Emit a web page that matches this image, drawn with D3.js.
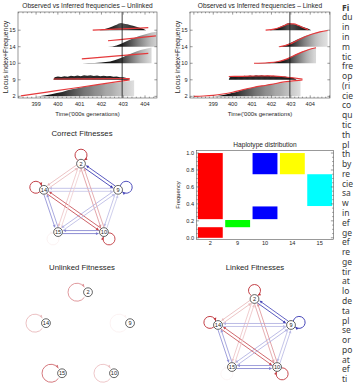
<!DOCTYPE html>
<html>
<head>
<meta charset="utf-8">
<title>Observed vs inferred frequencies</title>
<script src="https://cdn.jsdelivr.net/npm/d3@7/dist/d3.min.js"></script>
<style>
  html, body { margin: 0; padding: 0; background: #fff; }
  svg { display: block; }
  text { font-family: "Liberation Sans", Arial, sans-serif; fill: #262626; }
  text.side { font-family: "Noto Sans", "Open Sans", sans-serif; fill: #3a3a3a; }
</style>
</head>
<body>
<svg id="fig" width="354" height="384"></svg>
<script>
const loci = ["2", "9", "10", "14", "15"];
const timeTicks = [399, 400, 401, 402, 403, 404];
const cutoffTime = 402.95;

// observed frequencies, [time ('000 gen), frequency]
const obs2 = [[398.95, 0], [399.2, 0.02], [399.45, 0.06], [399.7, 0.12], [399.95, 0.2], [400.2, 0.27], [400.45, 0.37], [400.7, 0.44], [400.95, 0.51], [401.2, 0.58], [401.45, 0.62], [401.7, 0.68], [401.95, 0.71], [402.2, 0.77], [402.45, 0.79], [402.7, 0.84], [402.95, 0.88], [403.2, 0.92], [403.5, 0.97]];
const obs9 = [[399.8, 0], [399.85, 0.16], [400.0, 0.2], [400.15, 0.17], [400.3, 0.22], [400.45, 0.19], [400.6, 0.24], [400.75, 0.21], [400.9, 0.26], [401.05, 0.22], [401.2, 0.27], [401.35, 0.24], [401.5, 0.28], [401.65, 0.23], [401.8, 0.26], [401.95, 0.22], [402.1, 0.25], [402.25, 0.21], [402.4, 0.23], [402.55, 0.19], [402.7, 0.2], [402.85, 0.16], [403.0, 0.15], [403.15, 0.11], [403.3, 0]];
const obs10 = [[401.1, 0], [401.4, 0.01], [401.7, 0.02], [402.0, 0.04], [402.2, 0.07], [402.4, 0.11], [402.6, 0.18], [402.8, 0.27], [403.0, 0.38], [403.2, 0.5], [403.4, 0.61], [403.6, 0.71], [403.8, 0.8], [404.0, 0.87], [404.2, 0.93], [404.3, 0.95]];
const obs14 = [[402.3, 0], [402.5, 0.02], [402.7, 0.08], [402.9, 0.18], [403.1, 0.3], [403.3, 0.42], [403.5, 0.53], [403.7, 0.63], [403.9, 0.71], [404.1, 0.79], [404.3, 0.86], [404.5, 0.91], [404.7, 0.95], [404.9, 0.98]];
const obs15 = [[401.9, 0], [402.05, 0.04], [402.2, 0.09], [402.35, 0.15], [402.5, 0.22], [402.6, 0.28], [402.7, 0.33], [402.8, 0.4], [402.9, 0.44], [403.0, 0.41], [403.1, 0.38], [403.2, 0.36], [403.3, 0.31], [403.45, 0.27], [403.6, 0.21], [403.75, 0.15], [403.9, 0.08], [404.05, 0]];
const observed = [obs2, obs9, obs10, obs14, obs15];

// inferred trajectories, unlinked model
const unl2 = [[398.3, 0.03], [399.5, 0.26], [400.7, 0.49], [401.9, 0.72], [403.3, 1.0]];
const unl9 = [[399.8, 0.05], [401.5, 0.06], [403.3, 0.08]];
const unl10 = [[401.1, 0.27], [402.6, 0.43], [404.15, 0.6]];
const unl14 = [[402.3, 0.36], [403.4, 0.51], [404.5, 0.66]];
const unl15 = [[401.6, 0.0], [402.9, 0.08], [404.15, 0.15]];
const unlinkedFit = [unl2, unl9, unl10, unl14, unl15];

// inferred trajectories, linked model
const lnk2 = [[398.0, 0], [398.5, 0.02], [399.0, 0.06], [399.5, 0.14], [400.0, 0.25], [400.5, 0.39], [401.0, 0.52], [401.5, 0.63], [402.0, 0.72], [402.5, 0.84], [403.0, 0.92], [403.6, 1.0]];
const lnk9 = [[399.8, 0.2], [400.5, 0.21], [401.2, 0.23], [401.9, 0.24], [402.5, 0.2], [403.0, 0.13], [403.6, 0.05]];
const lnk10 = [[401.1, 0], [401.8, 0.03], [402.3, 0.09], [402.7, 0.22], [403.0, 0.37], [403.3, 0.54], [403.6, 0.69], [403.9, 0.82], [404.3, 0.94]];
const lnk14 = [[402.4, 0], [402.7, 0.07], [403.0, 0.19], [403.3, 0.36], [403.6, 0.53], [403.9, 0.68], [404.2, 0.8], [404.5, 0.9], [404.9, 0.98]];
const lnk15 = [[401.7, 0], [402.2, 0.08], [402.6, 0.25], [402.9, 0.38], [403.15, 0.38], [403.4, 0.28], [403.7, 0.12], [403.9, 0.03]];
const linkedFit = [lnk2, lnk9, lnk10, lnk14, lnk15];

// fitness interactions, row = source locus, column = target locus (order of loci)
const correctW = [
  [0.85, -0.9, 0.45, 0.3, 0.25],
  [-0.85, -0.8, -0.3, -0.3, -0.35],
  [0.4, -0.25, 0.8, 0.75, -0.55],
  [0.3, -0.25, 0.8, 0.85, -0.5],
  [0.2, -0.3, -0.6, -0.45, 0.06]
];
const linkedW = [
  [0.85, -0.85, 0.4, 0.3, 0.25],
  [-0.8, -0.85, -0.3, -0.35, -0.35],
  [0.45, -0.3, 0.8, 0.75, -0.5],
  [0.3, -0.3, 0.75, 0.85, -0.5],
  [0.25, -0.35, -0.55, -0.45, 0.04]
];
const unlinkedSelf = [0.45, 0.06, 0.25, 0.28, 0.6];

// haplotype blocks
const hapLocus = ["2", "2", "9", "10", "10", "14", "15"];
const hapStart = [0.22, 0, 0.125, 0.75, 0.22, 0.75, 0.375];
const hapEnd = [1, 0.125, 0.21, 1, 0.37, 1, 0.75];
const hapTicks = [0, 0.2, 0.4, 0.6, 0.8, 1];

const sideText = ["Fi", "du", "in", "in", "m", "tic", "fre", "op", "(ri", "cie", "co", "qu", "tic", "th", "pl", "th", "by", "re", "cie", "sa", "w", "in", "ef", "ge", "ef", "re", "ge", "tir", "at", "lo", "de", "ta", "pl", "se", "or", "po", "at", "ef", "ti"];

const svg = d3.select("#fig");
svg.append("rect").attr("width", 354).attr("height", 384).attr("fill", "#fff");

class FreqPanel {
  constructor(option) {
    let o = {
      svg: null,
      id: "p",
      x0: 18,
      x1: 157,
      y0: 12,
      y1: 98,
      domain: [398.17, 404.55],
      title: "",
      fits: []
    };
    Object.assign(o, option);
    Object.assign(this, o);
    this.init();
  }

  init() {
    this.group = this.svg.append("g");
    this.defs = this.group.append("defs");
    this.xScale = d3.scaleLinear().domain(this.domain).range([this.x0, this.x1]);
    this.yScale = d3.scaleLinear().domain([-0.1, 5.1]).range([this.y1, this.y0]);
    this.defs.append("clipPath").attr("id", this.id + "-clip")
      .append("rect")
      .attr("x", this.x0).attr("y", this.y0)
      .attr("width", this.x1 - this.x0).attr("height", this.y1 - this.y0);
    this.plot = this.group.append("g").attr("clip-path", `url(#${this.id}-clip)`);
    this.addObserved();
    this.addInferred();
    this.addFrame();
    this.addLabels();
  }

  addObserved() {
    // grey level follows the frequency: rare = dark, common = light
    const shade = f => d3.interpolateRgb("#050505", "#e8e8e8")(Math.pow(Math.max(0, f), 1.3));
    observed.forEach((s, i) => {
      const t0 = s[0][0], t1 = s[s.length - 1][0];
      const grad = this.defs.append("linearGradient")
        .attr("id", `${this.id}-g${i}`)
        .attr("gradientUnits", "userSpaceOnUse")
        .attr("x1", this.xScale(t0)).attr("x2", this.xScale(t1))
        .attr("y1", 0).attr("y2", 0);
      grad.selectAll("stop").data(s).enter().append("stop")
        .attr("offset", d => (d[0] - t0) / (t1 - t0))
        .attr("stop-color", d => shade(d[1]));
      const area = d3.area()
        .x(d => this.xScale(d[0]))
        .y0(this.yScale(i))
        .y1(d => this.yScale(i + d[1]));
      this.plot.append("path").datum(s)
        .attr("d", area)
        .attr("fill", `url(#${this.id}-g${i})`);
    });
  }

  addInferred() {
    this.fits.forEach((s, i) => {
      const line = d3.line()
        .curve(d3.curveMonotoneX)
        .x(d => this.xScale(d[0]))
        .y(d => this.yScale(i + d[1]));
      this.plot.append("path").datum(s)
        .attr("d", line)
        .attr("fill", "none")
        .attr("stroke", "#e5393b")
        .attr("stroke-width", 1.2);
    });
    this.plot.append("line")
      .attr("x1", this.xScale(cutoffTime)).attr("x2", this.xScale(cutoffTime))
      .attr("y1", this.y0).attr("y2", this.y1)
      .attr("stroke", "#111").attr("stroke-width", 0.8);
  }

  addFrame() {
    const g = this.group.append("g")
      .attr("fill", "none").attr("stroke", "#555").attr("stroke-width", 0.6);
    g.append("rect")
      .attr("x", this.x0).attr("y", this.y0)
      .attr("width", this.x1 - this.x0).attr("height", this.y1 - this.y0);
    const minor = d3.range(Math.ceil(this.domain[0] * 5), Math.floor(this.domain[1] * 5) + 1).map(v => v / 5);
    minor.forEach(t => {
      const major = Math.abs(t - Math.round(t)) < 1e-6;
      const len = major ? 2.6 : 1.3;
      const x = this.xScale(t);
      g.append("line").attr("x1", x).attr("x2", x).attr("y1", this.y1).attr("y2", this.y1 - len);
      g.append("line").attr("x1", x).attr("x2", x).attr("y1", this.y0).attr("y2", this.y0 + len);
    });
    loci.forEach((l, i) => {
      const y = this.yScale(i);
      g.append("line").attr("x1", this.x0).attr("x2", this.x0 + 2.6).attr("y1", y).attr("y2", y);
      g.append("line").attr("x1", this.x1).attr("x2", this.x1 - 2.6).attr("y1", y).attr("y2", y);
    });
  }

  addLabels() {
    const cx = (this.x0 + this.x1) / 2;
    this.group.append("text")
      .attr("x", cx).attr("y", 8.4)
      .attr("text-anchor", "middle").attr("font-size", 6.6)
      .text(this.title);
    this.group.selectAll(".xt").data(timeTicks).enter().append("text")
      .attr("x", d => this.xScale(d)).attr("y", 105.6)
      .attr("text-anchor", "middle").attr("font-size", 5.6)
      .text(d => d);
    this.group.selectAll(".yt").data(loci).enter().append("text")
      .attr("x", this.x0 - 2.5).attr("y", (d, i) => this.yScale(i) + 2)
      .attr("text-anchor", "end").attr("font-size", 5.6)
      .text(d => d);
    this.group.append("text")
      .attr("x", cx).attr("y", 115.6)
      .attr("text-anchor", "middle").attr("font-size", 6)
      .text("Time('000s generations)");
    const ly = (this.y0 + this.y1) / 2 + 2;
    this.group.append("text")
      .attr("transform", `translate(${this.x0 - 10.5},${ly}) rotate(-90)`)
      .attr("text-anchor", "middle").attr("font-size", 6.8)
      .text("Locus index+Frequency");
  }
}

new FreqPanel({ svg: svg, id: "unl", x0: 18, x1: 157, domain: [398.17, 404.55],
  title: "Observed vs Inferred frequencies \u2013 Unlinked", fits: unlinkedFit });
new FreqPanel({ svg: svg, id: "lnk", x0: 190, x1: 330, domain: [397.8, 405.02],
  title: "Observed vs Inferred frequencies \u2013 Linked", fits: linkedFit });

// ---- fitness networks ----
const posColor = d3.interpolateRgb("#ffffff", "#b5141c");
const negColor = d3.interpolateRgb("#ffffff", "#1c1ca8");
const edgeColor = w => w >= 0 ? posColor(Math.min(1, w)) : negColor(Math.min(1, -w));

function arrowHead(g, x, y, ux, uy, color) {
  const nx = -uy, ny = ux, l = 3.2, h = 1.4;
  g.append("path")
    .attr("d", `M${x},${y}L${x - ux * l + nx * h},${y - uy * l + ny * h}L${x - ux * l - nx * h},${y - uy * l - ny * h}Z`)
    .attr("fill", color);
}

function drawNetwork(opt) {
  const g = svg.append("g");
  const ring = ["2", "9", "10", "15", "14"];
  const pos = {};
  ring.forEach((k, i) => {
    const a = -Math.PI / 2 + i * 2 * Math.PI / 5;
    pos[k] = { x: opt.cx + opt.rx * Math.cos(a), y: opt.cy + opt.ry * Math.sin(a) };
  });
  const r = 4.4;

  g.append("text")
    .attr("x", opt.tx).attr("y", opt.ty)
    .attr("text-anchor", "middle").attr("font-size", 7.8)
    .text(opt.title);

  const eg = g.append("g");
  // edges between different loci, the two directions side by side
  loci.forEach((a, i) => loci.forEach((b, j) => {
    if (i === j || !opt.weights) return;
    const w = opt.weights[i][j];
    if (!w) return;
    const p = pos[a], q = pos[b];
    const dx = q.x - p.x, dy = q.y - p.y, len = Math.hypot(dx, dy);
    const ux = dx / len, uy = dy / len, nx = -uy, ny = ux, off = 1.5;
    const x1 = p.x + ux * r + nx * off, y1 = p.y + uy * r + ny * off;
    const x2 = q.x - ux * (r + 0.4) + nx * off, y2 = q.y - uy * (r + 0.4) + ny * off;
    const c = edgeColor(w);
    eg.append("line")
      .attr("x1", x1).attr("y1", y1)
      .attr("x2", x2 - ux * 2.5).attr("y2", y2 - uy * 2.5)
      .attr("stroke", c).attr("stroke-width", 0.85);
    arrowHead(eg, x2, y2, ux, uy, c);
  }));

  // self loops, drawn clockwise
  loci.forEach((a, i) => {
    const w = opt.self(i);
    if (!w) return;
    const p = pos[a];
    let dir = opt.loopDir;
    if (!dir) {
      const dx = p.x - opt.cx, dy = p.y - opt.cy, len = Math.hypot(dx, dy);
      dir = { x: dx / len, y: dy / len };
    }
    const cx = p.x + dir.x * opt.loopD, cy = p.y + dir.y * opt.loopD;
    const base = Math.atan2(-dir.y, -dir.x);
    const a0 = base + opt.gap, a1 = base - opt.gap;
    const sx = cx + opt.loopR * Math.cos(a0), sy = cy + opt.loopR * Math.sin(a0);
    const ex = cx + opt.loopR * Math.cos(a1), ey = cy + opt.loopR * Math.sin(a1);
    const c = edgeColor(w);
    eg.append("path")
      .attr("d", `M${sx},${sy}A${opt.loopR},${opt.loopR} 0 1 1 ${ex},${ey}`)
      .attr("fill", "none").attr("stroke", c).attr("stroke-width", 0.95);
    arrowHead(eg, ex, ey, -Math.sin(a1), Math.cos(a1), c);
  });

  const ng = g.selectAll(".node").data(loci).enter().append("g")
    .attr("transform", d => `translate(${pos[d].x},${pos[d].y})`);
  ng.append("circle").attr("r", r)
    .attr("fill", "#fff").attr("stroke", "#222").attr("stroke-width", 0.7);
  ng.append("text")
    .attr("y", 2).attr("text-anchor", "middle").attr("font-size", 5.6)
    .attr("fill", "#111")
    .text(d => d);
}

drawNetwork({ title: "Correct Fitnesses", tx: 82, ty: 135.6, cx: 81, cy: 201.5, rx: 39, ry: 37.8,
  weights: correctW, self: i => correctW[i][i], loopD: 8.5, loopR: 6, gap: 0.55 });
drawNetwork({ title: "Unlinked Fitnesses", tx: 82, ty: 269.6, cx: 88, cy: 337, rx: 44.2, ry: 44.8,
  weights: null, self: i => unlinkedSelf[i], loopDir: { x: -1, y: 0 }, loopD: 11, loopR: 9, gap: 0.6 });
drawNetwork({ title: "Linked Fitnesses", tx: 255, ty: 269.6, cx: 254.5, cy: 336.6, rx: 38.4, ry: 37.6,
  weights: linkedW, self: i => linkedW[i][i], loopD: 8.5, loopR: 6, gap: 0.55 });

// ---- haplotype distribution ----
function drawHaplotypes() {
  const x0 = 196.5, x1 = 333.5, y0 = 150.5, y1 = 239.5;
  const g = svg.append("g");
  const x = d3.scaleBand().domain(loci).range([x0, x1]).paddingInner(0.09).paddingOuter(0.05);
  const y = d3.scaleLinear().domain([-0.02, 1.03]).range([y1, y0]);
  const color = d3.scaleOrdinal().domain(loci)
    .range(["#ff0000", "#00ff00", "#0000ff", "#ffff00", "#00ffff"]);

  g.selectAll(".hap").data(hapLocus).enter().append("rect")
    .attr("x", d => x(d))
    .attr("width", x.bandwidth())
    .attr("y", (d, i) => y(hapEnd[i]))
    .attr("height", (d, i) => y(hapStart[i]) - y(hapEnd[i]))
    .attr("fill", d => color(d));

  const fg = g.append("g").attr("fill", "none").attr("stroke", "#555").attr("stroke-width", 0.6);
  fg.append("rect").attr("x", x0).attr("y", y0).attr("width", x1 - x0).attr("height", y1 - y0);
  d3.range(0, 21).map(v => v / 20).forEach(v => {
    const major = Math.abs(v * 5 - Math.round(v * 5)) < 1e-6;
    const len = major ? 2.6 : 1.3;
    fg.append("line").attr("x1", x0).attr("x2", x0 + len).attr("y1", y(v)).attr("y2", y(v));
    fg.append("line").attr("x1", x1).attr("x2", x1 - len).attr("y1", y(v)).attr("y2", y(v));
  });

  g.selectAll(".ht").data(hapTicks).enter().append("text")
    .attr("x", x0 - 2.5).attr("y", d => y(d) + 2)
    .attr("text-anchor", "end").attr("font-size", 5.6)
    .text(d => d.toFixed(1));
  g.selectAll(".hx").data(loci).enter().append("text")
    .attr("x", d => x(d) + x.bandwidth() / 2).attr("y", 245.2)
    .attr("text-anchor", "middle").attr("font-size", 5.6)
    .text(d => d);
  g.append("text")
    .attr("x", (x0 + x1) / 2).attr("y", 147)
    .attr("text-anchor", "middle").attr("font-size", 6.6)
    .text("Haplotype distribution");
  g.append("text")
    .attr("transform", `translate(179.5,${(y0 + y1) / 2}) rotate(-90)`)
    .attr("text-anchor", "middle").attr("font-size", 5.8)
    .text("Frequency");
}
drawHaplotypes();

// clipped caption column on the right
svg.selectAll(".side").data(sideText).enter().append("text")
  .attr("class", "side")
  .attr("x", 342)
  .attr("y", (d, i) => 10.6 + i * 9.78)
  .attr("font-size", 8.5)
  .attr("font-weight", (d, i) => i === 0 ? "bold" : "normal")
  .text(d => d);
</script>
</body>
</html>
